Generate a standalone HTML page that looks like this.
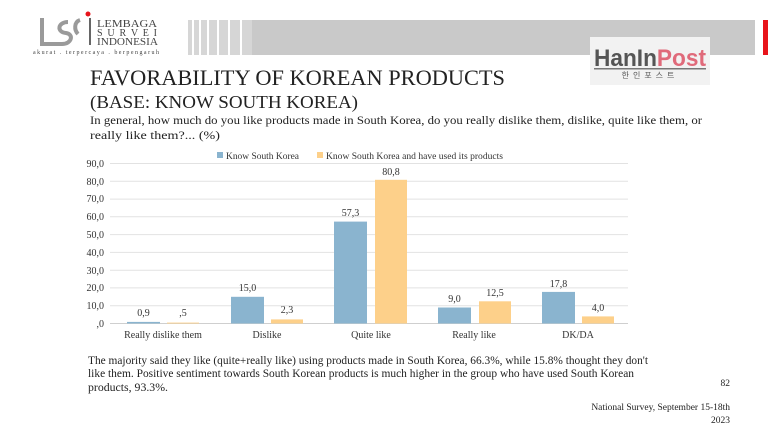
<!DOCTYPE html>
<html><head><meta charset="utf-8"><style>
html,body{margin:0;padding:0;background:#fff;}
svg{display:block;font-family:"Liberation Serif",serif;}
</style></head><body>
<svg width="768" height="432" viewBox="0 0 768 432" xmlns="http://www.w3.org/2000/svg">
<rect width="768" height="432" fill="#fff"/>
<rect x="250" y="20" width="505" height="35" fill="#c9c9c9"/>
<g fill="#d6d6d6">
<rect x="188" y="20" width="4" height="35"/><rect x="194" y="20" width="5" height="35"/>
<rect x="201" y="20" width="6" height="35"/><rect x="209" y="20" width="8" height="35"/>
<rect x="219" y="20" width="9" height="35"/><rect x="230" y="20" width="10" height="35"/>
<rect x="242" y="20" width="10" height="35"/>
</g>
<rect x="763" y="20" width="5" height="35" fill="#e8141b"/>
<g fill="none" stroke="#9a9a9a" stroke-width="4">
<path d="M42 18 V44 H62"/>
<path d="M68 22 C58 22 56 32 66 33 C74 34 72 44 62 44"/>
<path d="M80 20 C74 22 74 30 78 34"/>
</g>
<circle cx="88" cy="14" r="2.5" fill="#e8141b"/>
<rect x="89" y="18" width="2" height="27" fill="#666"/>
<g fill="#444" font-size="10">
<text x="97" y="27" textLength="60" lengthAdjust="spacingAndGlyphs">LEMBAGA</text>
<text x="97" y="36" textLength="60" lengthAdjust="spacing">S U R V E I</text>
<text x="97" y="45" textLength="61" lengthAdjust="spacingAndGlyphs">INDONESIA</text>
<text x="33" y="54" font-size="6" textLength="126" lengthAdjust="spacing">akurat . terpercaya . berpengaruh</text>
</g>
<rect x="590" y="37" width="120" height="48" fill="#f2f2f2"/>
<text x="594" y="66" font-family="Liberation Sans,sans-serif" font-weight="bold" font-size="24" textLength="112" lengthAdjust="spacingAndGlyphs"><tspan fill="#555">HanIn</tspan><tspan fill="#e06a7a">Post</tspan></text>
<rect x="594" y="68" width="112" height="1.5" fill="#777"/>
<text x="650" y="78" text-anchor="middle" font-family="Noto Sans CJK KR,sans-serif" font-size="8" fill="#555" letter-spacing="4">한인포스트</text>
<text x="90" y="85" font-size="22" fill="#222" textLength="415" lengthAdjust="spacingAndGlyphs">FAVORABILITY OF KOREAN PRODUCTS</text>
<text x="90" y="108" font-size="18" fill="#222" textLength="268" lengthAdjust="spacingAndGlyphs">(BASE: KNOW SOUTH KOREA)</text>
<text x="90" y="124" font-size="11.5" fill="#222" textLength="612" lengthAdjust="spacingAndGlyphs">In general, how much do you like products made in South Korea, do you really dislike them, dislike, quite like them, or</text>
<text x="90" y="139" font-size="11.5" fill="#222" textLength="130" lengthAdjust="spacingAndGlyphs">really like them?... (%)</text>
<rect x="217" y="152" width="6" height="6" fill="#8ab4cf"/>
<text x="226" y="159" font-size="9.5" fill="#333" textLength="73" lengthAdjust="spacingAndGlyphs">Know South Korea</text>
<rect x="317" y="152" width="6" height="6" fill="#fdd08a"/>
<text x="326" y="159" font-size="9.5" fill="#333" textLength="177" lengthAdjust="spacingAndGlyphs">Know South Korea and have used its products</text>
<g stroke="#e2e2e2" stroke-width="1">
<line x1="110" x2="628" y1="163.5" y2="163.5"/><line x1="110" x2="628" y1="181.3" y2="181.3"/>
<line x1="110" x2="628" y1="199.1" y2="199.1"/><line x1="110" x2="628" y1="216.8" y2="216.8"/>
<line x1="110" x2="628" y1="234.6" y2="234.6"/><line x1="110" x2="628" y1="252.4" y2="252.4"/>
<line x1="110" x2="628" y1="270.2" y2="270.2"/><line x1="110" x2="628" y1="287.9" y2="287.9"/>
<line x1="110" x2="628" y1="305.7" y2="305.7"/>
</g>
<line x1="110" x2="628" y1="323.5" y2="323.5" stroke="#cfcfcf"/>
<g font-size="10" fill="#333" text-anchor="end">
<text x="104" y="167">90,0</text><text x="104" y="185">80,0</text><text x="104" y="202">70,0</text>
<text x="104" y="220">60,0</text><text x="104" y="238">50,0</text><text x="104" y="256">40,0</text>
<text x="104" y="274">30,0</text><text x="104" y="291">20,0</text><text x="104" y="309">10,0</text>
<text x="104" y="327">,0</text>
</g>
<g fill="#8ab4cf">
<rect x="127" y="321.9" width="33" height="1.6"/>
<rect x="231" y="296.8" width="33" height="26.7"/>
<rect x="334" y="221.6" width="33" height="101.9"/>
<rect x="438" y="307.5" width="33" height="16"/>
<rect x="542" y="291.9" width="33" height="31.6"/>
</g>
<g fill="#fdd08a">
<rect x="167" y="322.6" width="32" height="0.9"/>
<rect x="271" y="319.4" width="32" height="4.1"/>
<rect x="375" y="179.8" width="32" height="143.7"/>
<rect x="479" y="301.3" width="32" height="22.2"/>
<rect x="582" y="316.4" width="32" height="7.1"/>
</g>
<g font-size="10" fill="#333" text-anchor="middle">
<text x="143.5" y="316">0,9</text><text x="183" y="316">,5</text>
<text x="247.5" y="291">15,0</text><text x="287" y="313">2,3</text>
<text x="350.5" y="216">57,3</text><text x="391" y="175">80,8</text>
<text x="454.5" y="302">9,0</text><text x="495" y="296">12,5</text>
<text x="558.5" y="287">17,8</text><text x="598" y="311">4,0</text>
</g>
<g font-size="10" fill="#333" text-anchor="middle">
<text x="163" y="338">Really dislike them</text>
<text x="267" y="338">Dislike</text>
<text x="371" y="338">Quite like</text>
<text x="474" y="338">Really like</text>
<text x="578" y="338">DK/DA</text>
</g>
<g font-size="11.5" fill="#222">
<text x="88" y="364" textLength="560" lengthAdjust="spacingAndGlyphs">The majority said they like (quite+really like) using products made in South Korea, 66.3%, while 15.8% thought they don't</text>
<text x="88" y="377" textLength="546" lengthAdjust="spacingAndGlyphs">like them. Positive sentiment towards South Korean products is much higher in the group who have used South Korean</text>
<text x="88" y="391" textLength="80" lengthAdjust="spacingAndGlyphs">products, 93.3%.</text>
</g>
<g font-size="9.5" fill="#222" text-anchor="end">
<text x="730" y="386">82</text>
<text x="730" y="410">National Survey, September 15-18th</text>
<text x="730" y="423">2023</text>
</g>
</svg>
</body></html>
